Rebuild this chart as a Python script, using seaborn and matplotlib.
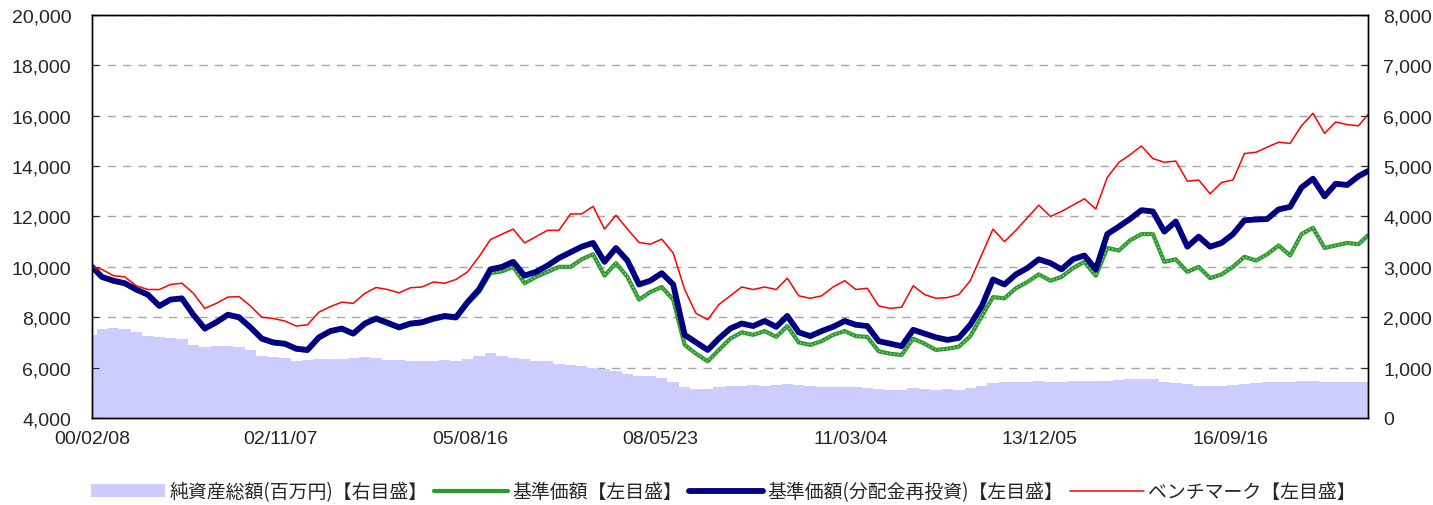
import pandas as pd
import seaborn as sns
import matplotlib.pyplot as plt
from matplotlib.ticker import FuncFormatter, MultipleLocator

# bimonthly readings, first/last point = start/end date
dates = ([pd.Timestamp("2000-02-08")]
         + list(pd.date_range("2000-04-01", "2018-08-01", freq="2MS"))
         + [pd.Timestamp("2018-09-20")])

# 基準価額(分配金再投資)
nav_reinv = [10000, 9600, 9450, 9350, 9100, 8900, 8450, 8700, 8750, 8100,
             7550, 7800, 8100, 8000, 7600, 7150, 7000, 6950, 6750, 6700,
             7200, 7450, 7550, 7350, 7750, 7950, 7780, 7600, 7750, 7800,
             7950, 8050, 8000, 8600, 9100, 9900, 10000, 10200, 9650, 9800,
             10050, 10350, 10580, 10800, 10950, 10200, 10750, 10250, 9300, 9450,
             9750, 9300, 7300, 7000, 6700, 7150, 7550, 7750, 7650, 7850,
             7620, 8050, 7400, 7250, 7450, 7620, 7850, 7700, 7650, 7050,
             6950, 6850, 7500, 7350, 7200, 7100, 7180, 7700, 8450, 9500,
             9300, 9700, 9950, 10300, 10150, 9900, 10300, 10450, 9900, 11300,
             11600, 11900, 12250, 12200, 11400, 11800, 10800, 11200, 10800, 10950,
             11300, 11850, 11880, 11900, 12280, 12380, 13150, 13500, 12800, 13300,
             13250, 13600, 13800]

# 基準価額
nav = [10000, 9580, 9420, 9320, 9070, 8870, 8420, 8670, 8720, 8070,
       7520, 7770, 8070, 7970, 7570, 7120, 6970, 6920, 6720, 6670,
       7170, 7420, 7520, 7320, 7720, 7910, 7740, 7560, 7710, 7760,
       7900, 8000, 7950, 8530, 9000, 9750, 9820, 10000, 9350, 9600,
       9800, 10000, 10000, 10300, 10500, 9650, 10150, 9600, 8700, 9000,
       9200, 8700, 6900, 6550, 6250, 6700, 7150, 7400, 7300, 7450,
       7220, 7650, 7000, 6900, 7050, 7300, 7450, 7250, 7220, 6650,
       6550, 6500, 7150, 6950, 6700, 6750, 6830, 7250, 8050, 8800,
       8750, 9150, 9400, 9700, 9450, 9600, 9950, 10200, 9650, 10750,
       10650, 11050, 11300, 11300, 10200, 10300, 9800, 10000, 9550, 9700,
       10000, 10400, 10250, 10500, 10850, 10450, 11300, 11550, 10750, 10850,
       10950, 10900, 11250]

# ベンチマーク
bench = [10000, 9900, 9650, 9600, 9250, 9100, 9100, 9300, 9350, 8950,
         8350, 8550, 8800, 8820, 8450, 8000, 7950, 7850, 7650, 7700,
         8200, 8420, 8600, 8550, 8950, 9180, 9100, 8970, 9170, 9200,
         9400, 9350, 9500, 9800, 10400, 11080, 11300, 11500, 10950, 11200,
         11450, 11450, 12100, 12100, 12400, 11500, 12050, 11500, 10970, 10900,
         11100, 10550, 9100, 8150, 7900, 8500, 8850, 9200, 9100, 9200,
         9100, 9550, 8850, 8750, 8850, 9200, 9450, 9100, 9150, 8450,
         8350, 8400, 9250, 8900, 8750, 8780, 8900, 9450, 10500, 11500,
         11000, 11450, 11950, 12450, 12000, 12200, 12450, 12700, 12300, 13550,
         14150, 14450, 14800, 14300, 14150, 14200, 13400, 13450, 12900, 13350,
         13450, 14500, 14550, 14750, 14950, 14900, 15600, 16100, 15300, 15750,
         15650, 15600, 16050]

# 純資産総額(百万円)
net_assets = [1650, 1770, 1780, 1770, 1700, 1620, 1600, 1580, 1560, 1450,
              1410, 1420, 1420, 1400, 1350, 1240, 1220, 1200, 1140, 1150,
              1170, 1170, 1180, 1190, 1210, 1190, 1160, 1150, 1140, 1140,
              1130, 1150, 1140, 1170, 1230, 1280, 1230, 1200, 1170, 1140,
              1130, 1080, 1050, 1030, 1000, 970, 940, 880, 830, 830,
              800, 720, 620, 580, 570, 620, 640, 640, 650, 640,
              660, 680, 650, 630, 620, 610, 620, 610, 600, 580,
              560, 550, 600, 580, 560, 570, 560, 600, 640, 700,
              720, 710, 720, 730, 720, 720, 730, 740, 730, 740,
              750, 770, 780, 770, 720, 700, 680, 640, 640, 640,
              660, 680, 700, 710, 720, 720, 730, 740, 720, 720,
              720, 720, 720]

tick_dates = ["2000-02-08", "2002-11-07", "2005-08-16", "2008-05-23",
              "2011-03-04", "2013-12-05", "2016-09-16"]
tick_labels = ["00/02/08", "02/11/07", "05/08/16", "08/05/23",
               "11/03/04", "13/12/05", "16/09/16"]

df = pd.DataFrame({"date": dates, "nav": nav, "nav_reinv": nav_reinv,
                   "bench": bench, "assets": net_assets})

sns.set_style("white")
plt.rcParams["font.family"] = ["Liberation Sans", "Noto Sans CJK JP"]

fig = plt.figure(figsize=(14.33, 5.06), dpi=100)
ax1 = fig.add_axes([0.0642, 0.172, 0.8904, 0.7964])
ax2 = ax1.twinx()

# area on right axis, gridlines below it
area = ax2.fill_between(df["date"], 0, df["assets"], step="mid",
                        color="#CCCCFF", lw=0, label="純資産総額(百万円)【右目盛】")
ax2.set_ylim(0, 8000)
ax2.yaxis.set_major_locator(MultipleLocator(1000))
ax2.yaxis.grid(True, linestyle=(0, (6, 5)), color="#A6A6A6", lw=1)
ax2.set_axisbelow(True)

ax1.set_zorder(ax2.get_zorder() + 1)
ax1.patch.set_visible(False)

sns.lineplot(data=df, x="date", y="nav", ax=ax1, color="#2E9A2E", lw=3,
             label="基準価額【左目盛】")
# speckled texture on the green line
sns.lineplot(data=df, x="date", y="nav", ax=ax1, color="#A8DCA8", lw=0.9,
             dashes=False, linestyle=(0, (1, 2)), label="_nolegend_")
sns.lineplot(data=df, x="date", y="nav_reinv", ax=ax1, color="#000080", lw=4.2,
             label="基準価額(分配金再投資)【左目盛】")
sns.lineplot(data=df, x="date", y="bench", ax=ax1, color="#FF0000", lw=1.1,
             label="ベンチマーク【左目盛】")

ax1.set_ylim(4000, 20000)
ax1.yaxis.set_major_locator(MultipleLocator(2000))
ax1.set_xlim(pd.Timestamp("2000-02-08"), pd.Timestamp("2018-09-20"))
ax1.set_xticks(pd.to_datetime(tick_dates))
ax1.set_xticklabels(tick_labels)
ax1.set_xlabel("")
ax1.set_ylabel("")
ax2.set_ylabel("")

fmt = FuncFormatter(lambda v, p: f"{int(v):,}")
ax1.yaxis.set_major_formatter(fmt)
ax2.yaxis.set_major_formatter(fmt)

ax1.tick_params(axis="y", direction="in", length=5, pad=15, labelsize=14)
ax1.tick_params(axis="x", direction="in", length=5, pad=9, labelsize=14)
ax2.tick_params(axis="y", direction="in", length=5, pad=11, labelsize=14)

for ax in (ax1, ax2):
    for s in ax.spines.values():
        s.set_color("black")
        s.set_linewidth(1)

h1, l1 = ax1.get_legend_handles_labels()
ax1.get_legend().remove()
fig.legend([area] + h1, [area.get_label()] + l1, loc="center",
           bbox_to_anchor=(0.505, 0.026), ncol=4, frameon=False,
           borderpad=0.1, borderaxespad=0,
           prop={"family": ["Noto Sans CJK JP"], "size": 13.6},
           handlelength=3.9, handletextpad=0.25, columnspacing=0.35)

fig.savefig("out.png", dpi=100)
